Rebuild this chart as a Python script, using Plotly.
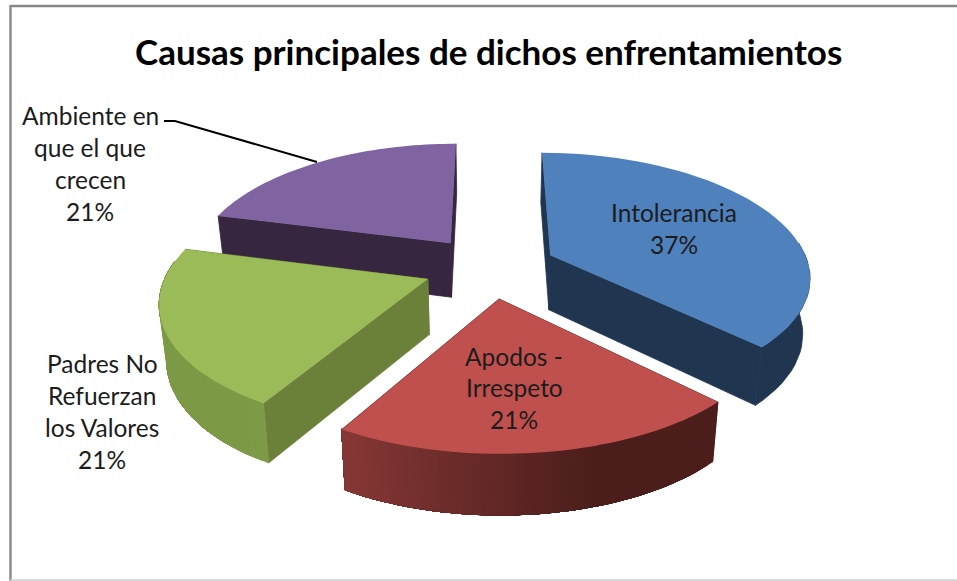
import math
import plotly.graph_objects as go

# ---------- data ----------
title_text = "Causas principales de dichos enfrentamientos"
categories = ["Intolerancia", "Apodos - Irrespeto", "Padres No Refuerzan los Valores", "Ambiente en que el que crecen"]
values = [37.4, 21.0, 20.6, 21.0]
percent_labels = ["37%", "21%", "21%", "21%"]
label_lines = [["Intolerancia"], ["Apodos -", "Irrespeto"], ["Padres No", "Refuerzan", "los Valores"], ["Ambiente en", "que el que", "crecen"]]

# ---------- style ----------
top_colors = ["#4f81bd", "#c0504d", "#9bbb59", "#8064a2"]
cut_colors = ["#1f3550", "#4c1f1d", "#6b813a", "#36263f"]
wall_left = ["#1f3550", "#8e3b39", "#7c9a46", "#36263f"]
wall_right = ["#1f3550", "#4b1e1c", "#85a34c", "#36263f"]
label_x = [674, 514, 102, 90]
label_y = [212, 356, 363, 115]
label_step = [32, 31.5, 32.3, 32.3]
leader_x = [164, 175, 317]
leader_y = [121, 121, 162]

CX, CY, RX, RY, KX, KY, EXPLODE, WALL, BOTTOM_SHRINK = 490, 267, 259, 121, 0.16, 0.15, 0.256, 55, 0.977
PAINT_ORDER = [3, 0, 2, 1]

fig = go.Figure()


def project(xw, yw, bottom=False):
    x = CX + RX * xw / (1 - KX * yw)
    y = CY + RY * yw / (1 - KY * yw)
    if bottom:
        x = CX + (x - CX) * BOTTOM_SHRINK
        y = y + WALL * (1 + 0.09 * yw)
    return x, y


def blend(a, b, t):
    pa = [int(a[i:i + 2], 16) for i in (1, 3, 5)]
    pb = [int(b[i:i + 2], 16) for i in (1, 3, 5)]
    return "rgb(%d,%d,%d)" % tuple(round(p + (q - p) * t) for p, q in zip(pa, pb))


def poly(points, color, edge=0):
    fig.add_trace(go.Scatter(
        x=[p[0] for p in points] + [points[0][0]],
        y=[p[1] for p in points] + [points[0][1]],
        mode="lines" if edge else "none", fill="toself", fillcolor=color,
        line=dict(color=color, width=edge) if edge else None,
        hoverinfo="skip", showlegend=False))


total = sum(values)
angles = [0]
for v in values:
    angles.append(angles[-1] + v / total * 2 * math.pi)

for i in PAINT_ORDER:
    a0, a1 = angles[i], angles[i + 1]
    mid = (a0 + a1) / 2
    ox, oy = EXPLODE * math.sin(mid), -EXPLODE * math.cos(mid)
    rim = lambda a: (ox + math.sin(a), oy - math.cos(a))
    apex = (ox, oy)
    n = 48
    arc = [a0 + (a1 - a0) * j / n for j in range(n + 1)]

    # cut faces first, so the outer wall covers the one that faces away
    for a in (a0, a1):
        p = rim(a)
        poly([project(*apex), project(*p), project(*p, True), project(*apex, True)], cut_colors[i], edge=0.8)
    # outer wall: overlapping bands, one shade per band
    visible = [a for a in arc if math.cos(a) < 0.15]
    step = 1 if wall_left[i] != wall_right[i] else len(arc)
    for j in range(0, max(len(visible) - 1, 0), step):
        band = visible[j:]
        t = min(1, max(0, (math.sin(visible[j]) + 0.6) / 0.9))
        top = [project(*rim(a)) for a in band]
        bottom = [project(*rim(a), True) for a in reversed(band)]
        poly(top + bottom, blend(wall_left[i], wall_right[i], t), edge=0.8)
    # top face
    poly([project(*apex)] + [project(*rim(a)) for a in arc], top_colors[i])

# leader line
fig.add_trace(go.Scatter(x=leader_x, y=leader_y, mode="lines", line=dict(color="black", width=2),
                         hoverinfo="skip", showlegend=False))

# labels
for i in range(len(categories)):
    lines = label_lines[i] + [percent_labels[i]]
    for j, line in enumerate(lines):
        fig.add_annotation(x=label_x[i], y=label_y[i] + j * label_step[i], text=line, showarrow=False,
                           font=dict(family="Lato", size=24.5, color="#1c1c1c"),
                           xanchor="center", yanchor="middle")

fig.add_annotation(x=488, y=51, text="<b>%s</b>" % title_text, showarrow=False,
                   font=dict(family="Lato", size=35, color="black"), xanchor="center", yanchor="middle")

# chart frame
fig.add_shape(type="line", x0=10, x1=957, y0=6, y1=6, line=dict(color="#868686", width=2.5))
fig.add_shape(type="line", x0=10.5, x1=10.5, y0=5, y1=581, line=dict(color="#8c8c8c", width=2.5))
fig.add_shape(type="line", x0=10, x1=957, y0=580, y1=580, line=dict(color="#cfcfcf", width=1.5))

fig.update_layout(
    width=957, height=581, margin=dict(l=0, r=0, t=0, b=0),
    paper_bgcolor="white", plot_bgcolor="white", hovermode=False, showlegend=False,
    xaxis=dict(range=[0, 957], visible=False, fixedrange=True),
    yaxis=dict(range=[581, 0], visible=False, fixedrange=True),
)
fig.write_html("out.html", config={"displayModeBar": False},
               post_script="document.body.style.margin='0';document.body.style.overflow='hidden';")
